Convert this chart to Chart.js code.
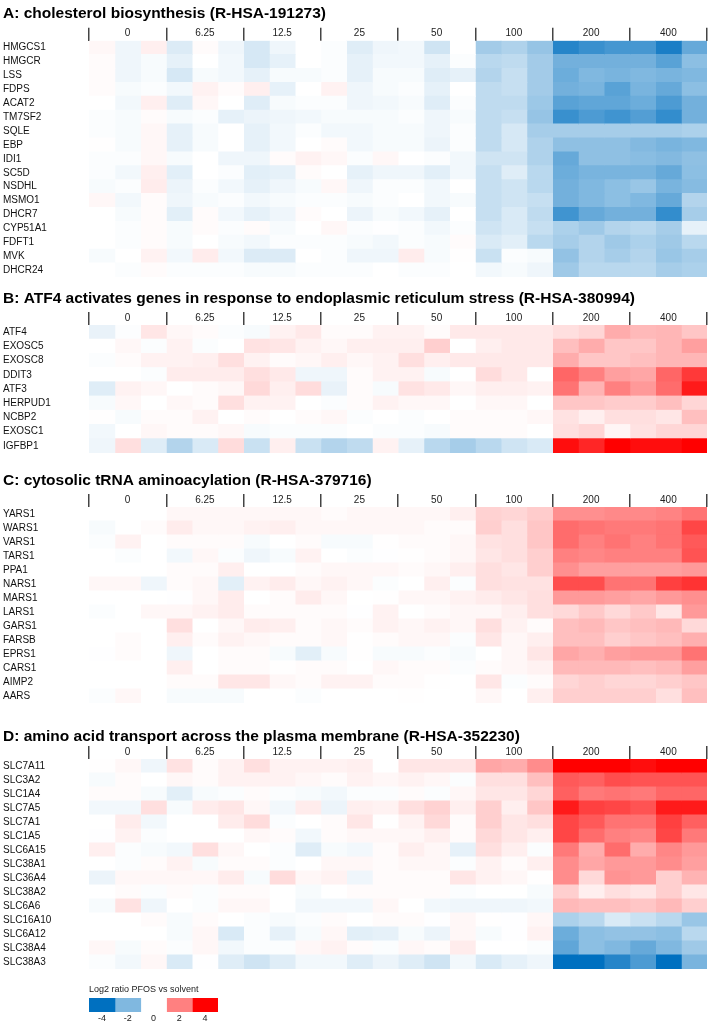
<!DOCTYPE html>
<html>
<head>
<meta charset="utf-8">
<script src="https://cdn.jsdelivr.net/npm/chart.js@4.4.1/dist/chart.umd.min.js"></script>
<style>
  html, body { margin: 0; padding: 0; background: #fff; }
  body { width: 709px; height: 1025px; position: relative; overflow: hidden; }
  canvas { position: absolute; }
</style>
</head>
<body>
<canvas id="panelA" width="709"></canvas>
<canvas id="panelB" width="709"></canvas>
<canvas id="panelC" width="709"></canvas>
<canvas id="panelD" width="709"></canvas>
<canvas id="scale" width="140" height="43"></canvas>
<script>
// PFOS concentrations, three replicate columns each
const doses = ['0', '6.25', '12.5', '25', '50', '100', '200', '400'];

const cholGenes = ['HMGCS1', 'HMGCR', 'LSS', 'FDPS', 'ACAT2', 'TM7SF2', 'SQLE', 'EBP', 'IDI1', 'SC5D',
  'NSDHL', 'MSMO1', 'DHCR7', 'CYP51A1', 'FDFT1', 'MVK', 'DHCR24'];
const cholVals = [
  [0.12, -0.25, 0.25, -0.55, 0.06, -0.25, -0.65, -0.25, 0, -0.06, -0.5, -0.25, -0.2, -0.75, 0, -1.45, -1.25, -1.65, -3.4, -3.1, -2.9, -2.9, -3.6, -2.4],
  [0.06, -0.25, -0.12, -0.4, 0, -0.2, -0.65, -0.4, 0, -0.06, -0.4, -0.2, -0.2, -0.4, -0.06, -1.1, -1.0, -1.45, -2.2, -2.2, -2.2, -2.2, -2.6, -1.8],
  [0.06, -0.25, -0.12, -0.65, -0.12, -0.2, -0.4, -0.12, -0.12, -0.06, -0.4, -0.12, -0.12, -0.5, -0.4, -1.2, -0.9, -1.45, -2.3, -2.0, -2.1, -2.0, -2.1, -2.0],
  [0.06, -0.12, -0.06, -0.2, 0.2, 0.06, 0.25, -0.4, 0, 0.2, -0.25, -0.12, -0.06, -0.4, 0, -1.0, -0.9, -1.45, -2.2, -2.1, -2.6, -2.1, -2.4, -1.8],
  [0, -0.2, 0.25, -0.5, 0.12, 0, -0.5, -0.12, -0.06, -0.06, -0.25, -0.2, -0.12, -0.5, -0.06, -1.0, -1.0, -1.55, -2.6, -2.5, -2.5, -2.3, -2.8, -2.2],
  [-0.06, -0.12, 0.06, -0.12, -0.06, -0.4, -0.3, -0.25, -0.2, -0.12, -0.12, -0.12, -0.06, -0.25, -0.12, -1.0, -0.9, -1.65, -3.1, -2.8, -3.0, -2.7, -3.2, -2.2],
  [-0.06, -0.12, 0.12, -0.4, -0.12, 0, -0.4, -0.2, -0.06, -0.2, -0.2, -0.12, -0.12, -0.25, -0.06, -1.0, -0.65, -1.4, -1.4, -1.4, -1.4, -1.4, -1.4, -1.3],
  [0.02, -0.12, 0.12, -0.4, -0.12, 0, -0.4, -0.2, 0, 0.06, -0.2, -0.12, -0.12, -0.3, -0.06, -1.0, -0.65, -1.25, -1.75, -1.75, -1.75, -1.95, -2.1, -2.0],
  [-0.06, -0.06, 0.12, -0.12, 0, -0.25, -0.25, 0.06, 0.2, 0.12, -0.06, 0.12, 0, -0.06, -0.2, -0.75, -0.75, -1.25, -2.4, -1.75, -1.75, -1.85, -1.95, -1.75],
  [-0.06, -0.2, 0.25, -0.45, 0, -0.06, -0.45, -0.4, 0.06, 0, -0.4, -0.25, -0.25, -0.45, -0.2, -0.9, -0.5, -1.1, -2.3, -2.1, -2.1, -2.1, -2.4, -1.8],
  [-0.12, -0.06, 0.3, -0.3, -0.06, -0.2, -0.4, -0.25, -0.12, 0.12, -0.25, -0.06, -0.06, -0.2, 0, -0.9, -0.75, -1.1, -2.2, -2.0, -1.8, -1.6, -2.1, -1.9],
  [0.12, -0.2, 0.06, -0.25, -0.12, -0.06, -0.2, -0.12, -0.06, -0.06, -0.12, -0.06, 0, -0.2, -0.12, -0.9, -0.75, -0.9, -2.2, -2.0, -1.8, -2.0, -2.4, -1.2],
  [0, -0.12, 0.06, -0.45, 0.06, -0.2, -0.4, -0.25, 0.06, 0, -0.3, -0.12, -0.2, -0.4, 0, -0.9, -0.6, -1.0, -3.0, -2.4, -2.2, -2.2, -3.2, -1.4],
  [0, -0.06, 0.06, -0.12, 0.06, -0.06, 0.06, -0.12, 0, 0.12, -0.06, -0.02, -0.06, -0.2, -0.06, -0.75, -0.6, -0.9, -1.3, -1.5, -1.2, -1.1, -1.4, -0.4],
  [0, -0.06, 0.06, -0.12, 0, -0.12, -0.2, -0.06, -0.06, -0.06, -0.12, -0.2, -0.06, -0.12, 0.06, -0.6, -0.45, -1.1, -1.4, -1.2, -1.5, -1.3, -1.5, -1.1],
  [-0.12, 0, 0.2, -0.2, 0.3, -0.2, -0.55, -0.55, 0, -0.06, -0.25, -0.25, 0.3, -0.12, 0.02, -0.85, -0.06, -0.12, -1.7, -1.2, -1.4, -1.2, -1.6, -1.4],
  [0, -0.06, 0.06, -0.06, -0.06, -0.06, -0.12, -0.12, -0.06, -0.06, -0.06, 0, -0.06, -0.06, 0, -0.2, -0.12, -0.25, -1.5, -1.1, -1.1, -1.1, -1.4, -1.3],
];

const atf4Genes = ['ATF4', 'EXOSC5', 'EXOSC8', 'DDIT3', 'ATF3', 'HERPUD1', 'NCBP2', 'EXOSC1', 'IGFBP1'];
const atf4Vals = [
  [-0.35, -0.05, 0.4, 0.12, 0.06, -0.06, -0.12, 0.2, 0.35, 0.06, 0.06, 0.2, 0.2, 0.06, 0.35, 0.35, 0.35, 0.35, 0.5, 0.65, 1.3, 1.1, 1.15, 0.9],
  [0, 0.12, -0.06, 0.2, -0.06, 0, 0.45, 0.4, 0.2, 0.12, 0.25, 0.25, 0.25, 0.75, 0, 0.25, 0.35, 0.35, 1.0, 1.3, 0.9, 0.9, 1.15, 1.5],
  [-0.06, 0.06, 0.2, 0.2, 0.25, 0.5, 0.2, 0.06, 0.12, 0.25, 0.12, 0.2, 0.5, 0.25, 0.35, 0.35, 0.35, 0.35, 1.3, 0.9, 0.9, 1.0, 1.15, 1.15],
  [0, 0, -0.06, 0.3, 0.3, 0.3, 0.5, 0.35, -0.25, -0.25, 0.06, 0.2, 0.2, -0.12, 0, 0.55, 0.35, 0, 2.4, 2.0, 1.5, 1.4, 2.4, 3.1],
  [-0.5, 0.2, 0.12, 0, 0.06, 0.12, 0.6, 0.25, 0.55, -0.35, 0.06, -0.12, 0.45, 0.35, 0.12, 0.25, 0.25, 0.2, 2.2, 1.2, 2.0, 1.6, 2.3, 3.6],
  [-0.12, 0.12, 0, 0.12, 0.06, 0.5, 0.2, 0.2, 0, -0.06, 0.06, 0.2, 0.12, 0.12, 0, 0.12, 0.12, 0, 0.9, 0.9, 0.8, 0.8, 1.0, 0.65],
  [0.02, -0.12, 0.06, 0.06, 0.2, 0, 0.06, 0, 0.06, 0.12, -0.06, 0, -0.06, 0, 0.06, 0.06, 0.06, 0.12, 0.45, 0.25, 0.5, 0.5, 0.4, 1.0],
  [-0.2, 0, 0.12, 0.06, 0.06, 0.12, -0.12, -0.06, -0.06, -0.06, 0, -0.06, -0.06, -0.12, 0.06, 0.06, 0.06, 0, 0.5, 0.65, 0.15, 0.45, 0.65, 0.65],
  [-0.25, 0.5, -0.5, -1.2, -0.6, 0.55, -0.85, 0.25, -0.85, -1.2, -1.0, 0.2, -0.4, -1.1, -1.4, -1.1, -0.75, -0.6, 3.8, 3.4, 4.0, 3.8, 3.8, 4.0],
];

const trnaGenes = ['YARS1', 'WARS1', 'VARS1', 'TARS1', 'PPA1', 'NARS1', 'MARS1', 'LARS1', 'GARS1', 'FARSB',
  'EPRS1', 'CARS1', 'AIMP2', 'AARS'];
const trnaVals = [
  [0, 0, 0, 0.12, 0.12, 0.12, 0.12, 0.12, 0.12, 0.06, 0.12, 0.12, 0.12, 0.12, 0.25, 0.7, 0.65, 0.8, 1.75, 1.75, 1.85, 1.85, 1.95, 2.2],
  [-0.12, 0, 0.06, 0.3, 0.12, 0.12, 0.2, 0.25, 0.12, 0.12, 0.12, 0.12, 0.12, 0.06, 0.06, 0.75, 0.5, 0.9, 2.3, 2.2, 2.1, 2.1, 2.2, 2.9],
  [-0.06, 0.2, 0, 0.06, 0.06, 0.06, -0.12, 0, 0.06, -0.12, -0.12, 0.02, 0.06, 0.06, 0.12, 0.45, 0.5, 0.9, 2.3, 2.0, 2.2, 2.0, 2.2, 2.6],
  [0, -0.06, 0, -0.2, 0.12, -0.06, -0.25, -0.12, 0.2, 0, -0.06, -0.02, 0.02, 0.06, 0.12, 0.4, 0.5, 0.75, 2.0, 1.9, 2.0, 2.0, 2.0, 2.7],
  [0, 0, 0, 0.06, 0.06, 0.25, 0, 0, 0.06, 0.12, 0.12, 0.12, 0.06, 0.12, 0.25, 0.5, 0.4, 0.75, 1.75, 1.5, 1.5, 1.5, 1.5, 1.6],
  [0.12, 0.12, -0.25, 0.06, 0.12, -0.45, 0.2, 0.3, 0.12, 0.2, 0.12, -0.06, 0, 0.25, -0.06, 0.5, 0.45, 0.45, 2.8, 2.8, 2.2, 2.2, 3.0, 3.2],
  [0, 0, 0, -0.02, 0.12, 0.3, 0, 0.06, 0.3, 0.12, 0, 0.02, 0.12, 0.12, 0.2, 0.3, 0.4, 0.5, 1.6, 1.6, 1.5, 1.4, 1.6, 1.75],
  [-0.06, 0, 0.12, 0.12, 0.2, 0.3, 0.06, 0.06, 0.06, 0.06, -0.02, 0.2, 0, 0.06, 0.12, 0.12, 0.25, 0.5, 0.6, 0.85, 0.6, 0.85, 0.4, 1.6],
  [0, 0, 0, 0.5, 0, 0.12, 0.3, 0.25, 0.06, 0.12, 0.06, 0.2, 0.12, 0.2, 0.12, 0.5, 0.2, 0.06, 1.0, 1.1, 0.9, 1.0, 1.1, 0.6],
  [0, 0.06, 0, 0.25, 0.06, 0.2, 0.12, 0.06, 0.06, 0.12, 0.02, 0.06, 0.12, 0.12, -0.06, 0.4, 0.12, 0.25, 1.0, 1.0, 0.75, 0.9, 1.0, 1.25],
  [-0.02, 0.06, 0, -0.25, 0, 0.06, 0.06, -0.12, -0.45, -0.12, 0.02, -0.12, -0.12, -0.06, -0.12, 0, 0.12, 0.4, 1.4, 1.25, 1.5, 1.6, 1.6, 2.2],
  [0, 0, 0, 0.25, 0, 0.06, 0.06, 0.02, 0.06, 0.06, 0, 0.12, 0.06, 0.06, -0.06, 0.06, 0.12, 0.2, 1.1, 1.1, 1.1, 1.0, 1.1, 1.5],
  [0, 0, 0, 0.06, 0.06, 0.4, 0.4, 0.12, 0.06, 0.2, 0.2, 0.06, 0.06, 0.02, 0, 0.4, -0.06, 0.06, 0.65, 0.75, 0.65, 0.65, 0.75, 0.9],
  [-0.06, 0.12, 0, -0.12, -0.12, -0.12, 0, 0, -0.06, 0, 0, 0, 0.02, 0, 0, 0.12, 0, 0.25, 0.75, 0.75, 0.75, 0.75, 0.5, 1.0],
];

const aaGenes = ['SLC7A11', 'SLC3A2', 'SLC1A4', 'SLC7A5', 'SLC7A1', 'SLC1A5', 'SLC6A15', 'SLC38A1', 'SLC36A4',
  'SLC38A2', 'SLC6A6', 'SLC16A10', 'SLC6A12', 'SLC38A4', 'SLC38A3'];
const aaVals = [
  [0.02, 0.12, -0.25, 0.45, 0.06, 0.2, 0.5, 0.2, 0.2, 0.2, 0.25, 0, 0.4, 0.4, 0.4, 1.4, 1.3, 1.8, 4.0, 4.0, 4.0, 3.8, 4.0, 4.0],
  [-0.12, 0.06, 0, 0.12, 0.06, 0.2, 0.2, 0.2, 0.12, 0.06, 0.2, 0.12, 0.2, 0.12, -0.06, 0.5, 0.5, 1.0, 2.6, 2.5, 2.8, 2.7, 2.7, 2.7],
  [0.06, 0.06, -0.12, -0.45, -0.12, -0.06, 0.06, -0.06, -0.12, -0.2, -0.06, -0.06, 0.06, -0.06, 0.12, 0.4, 0.4, 0.65, 2.5, 2.1, 2.2, 2.1, 2.4, 2.4],
  [-0.2, -0.2, 0.5, -0.12, 0.3, 0.4, 0.12, -0.2, 0.3, -0.3, 0.25, 0.2, 0.5, 0.7, 0.25, 0.75, 0.25, 0.9, 3.6, 3.0, 2.9, 2.7, 3.6, 3.6],
  [0, 0.3, -0.2, 0, 0, 0.3, 0.55, -0.06, 0, 0.06, 0.4, 0.02, 0.2, 0.6, 0.06, 0.75, 0.4, 0.5, 2.9, 2.6, 2.2, 2.2, 3.0, 2.5],
  [-0.02, 0.2, -0.06, 0, 0, 0, 0.12, 0.06, -0.2, 0.06, 0.12, 0.12, 0.12, 0.25, 0.06, 0.6, 0.4, 0.25, 2.9, 2.3, 2.0, 1.9, 2.9, 2.1],
  [0.25, -0.06, -0.12, -0.2, 0.5, 0.12, 0, -0.06, -0.5, -0.12, -0.2, 0.06, 0.25, 0.12, -0.4, 0.5, 0.25, -0.06, 2.1, 1.3, 2.3, 1.3, 1.9, 1.6],
  [0, -0.06, 0.06, 0.2, -0.12, 0.06, 0.06, -0.06, 0, 0.12, 0.12, 0.06, 0.12, 0.12, -0.06, 0.2, 0.06, 0.25, 1.8, 1.4, 1.6, 1.6, 1.8, 1.5],
  [-0.3, 0.12, 0.12, 0.12, 0.12, 0.3, -0.12, 0.55, 0.12, 0.2, -0.25, 0.06, 0.06, 0.06, 0.4, 0.2, 0.12, 0.02, 1.8, 0.6, 1.7, 1.6, 0.75, 1.2],
  [0, 0.06, -0.06, 0.06, -0.06, 0.06, 0.06, 0, -0.12, 0, 0.06, 0.06, 0.06, 0.06, -0.06, 0, 0, -0.12, 0.75, 0.25, 0.5, 0.4, 0.75, 0.4],
  [-0.12, 0.45, -0.25, 0, -0.06, 0.12, 0.12, 0, -0.2, -0.2, -0.2, 0.12, 0, -0.2, -0.25, -0.25, -0.25, -0.2, 1.1, 1.0, 1.0, 0.9, 1.1, 0.75],
  [0, 0, 0.06, -0.12, 0.06, 0, -0.06, -0.12, -0.06, 0.06, 0, 0.06, 0.06, -0.02, 0.12, 0.02, -0.02, 0.12, -1.3, -1.1, -0.6, -0.85, -1.1, -1.6],
  [0, 0, 0, -0.12, 0.12, -0.6, -0.06, -0.4, -0.12, 0.12, -0.45, -0.4, -0.12, -0.3, 0.12, -0.12, -0.02, 0.2, -2.3, -1.8, -1.7, -1.7, -1.8, -1.1],
  [0.12, -0.12, 0.06, -0.06, 0.12, -0.2, -0.06, -0.06, 0.12, 0.2, 0.06, -0.06, 0.12, 0.06, 0.3, 0, 0, -0.06, -2.5, -1.8, -2.0, -2.4, -2.0, -1.5],
  [-0.06, -0.2, 0.12, -0.6, -0.02, -0.5, -0.75, -0.5, -0.2, -0.2, -0.5, -0.3, -0.5, -0.75, -0.2, -0.6, -0.4, -0.25, -4.0, -4.0, -3.4, -2.8, -4.0, -2.1],
];

const legendSteps = [-4, -2, 0, 2, 4];

const FONT = "'Liberation Sans', Arial, Helvetica, sans-serif";
const REPS = 3;

// Log2 ratio -> colour: white at 0, #0070C0 at -4, pure red at +4.
function heat(v) {
  const t = Math.min(Math.abs(v) / 4, 1);
  if (v < 0) {
    return `rgb(${Math.round(255 - 255 * t)},${Math.round(255 - 143 * t)},${Math.round(255 - 63 * t)})`;
  }
  return `rgb(255,${Math.round(255 - 255 * t)},${Math.round(255 - 255 * t)})`;
}

// One heatmap panel = horizontal stacked bars; each replicate column is a
// dataset of unit-width cells coloured by its value.
function panel(id, top, title, genes, vals, rowH, titleGap) {
  const cols = doses.length * REPS;
  const cv = document.getElementById(id);
  // title (4 + 18.6 + gap) + dose header (13) + rows; +6 for the half label
  // height the y axis keeps free below the last row.
  cv.height = Math.round(4 + 18.6 + titleGap + 13 + genes.length * rowH + 6);
  cv.style.left = '0px';
  cv.style.top = top + 'px';
  const datasets = [];
  for (let j = 0; j < cols; j++) {
    datasets.push({
      data: genes.map(() => 1),
      backgroundColor: vals.map(r => heat(r[j])),
      borderWidth: 0,
      barPercentage: 1,
      categoryPercentage: 1,
      inflateAmount: 0.5,
    });
  }
  return new Chart(cv, {
    type: 'bar',
    data: { labels: genes, datasets },
    options: {
      indexAxis: 'y',
      responsive: false,
      animation: false,
      devicePixelRatio: 1,
      layout: { padding: { left: 3, right: 2, top: 0, bottom: 0 } },
      plugins: {
        legend: { display: false },
        tooltip: { enabled: false },
        title: {
          display: true, text: title, align: 'start', color: '#000',
          font: { family: FONT, size: 15.5, weight: 'bold' },
          padding: { top: 4, bottom: titleGap },
        },
      },
      scales: {
        x: { type: 'linear', stacked: true, min: 0, max: cols, display: false },
        xg: {
          type: 'category', axis: 'x', position: 'top', labels: doses, offset: true,
          grid: { offset: true, drawOnChartArea: false, tickLength: 13, color: '#444', lineWidth: 1.5 },
          border: { display: false },
          ticks: { color: '#222', font: { family: FONT, size: 10 }, padding: -12, maxRotation: 0, autoSkip: false },
          afterFit: s => { s.height = 13; },
        },
        y: {
          stacked: true,
          grid: { display: false, drawTicks: false },
          border: { display: false },
          ticks: { color: '#111', font: { family: FONT, size: 10 }, crossAlign: 'far', autoSkip: false, padding: 0 },
          afterFit: s => { s.width = 86; },
        },
      },
    },
  });
}

panel('panelA', 0, 'A: cholesterol biosynthesis (R-HSA-191273)', cholGenes, cholVals, 13.9, 5.1);
panel('panelB', 285, 'B: ATF4 activates genes in response to endoplasmic reticulum stress (R-HSA-380994)', atf4Genes, atf4Vals, 14.2, 4.4);
panel('panelC', 467, 'C: cytosolic tRNA aminoacylation (R-HSA-379716)', trnaGenes, trnaVals, 14, 4.4);
panel('panelD', 723, 'D: amino acid transport across the plasma membrane (R-HSA-352230)', aaGenes, aaVals, 14, 0.4);

// Colour key
const sc = document.getElementById('scale');
sc.style.left = '86px';
sc.style.top = '982px';
new Chart(sc, {
  type: 'bar',
  data: {
    labels: [''],
    datasets: legendSteps.map(v => ({
      data: [1], backgroundColor: heat(v), borderWidth: 0,
      barPercentage: 1, categoryPercentage: 1, inflateAmount: 0.5,
    })),
  },
  options: {
    indexAxis: 'y',
    responsive: false,
    animation: false,
    devicePixelRatio: 1,
    layout: { padding: { left: 3, right: 8, top: 0, bottom: 0 } },
    plugins: {
      legend: { display: false },
      tooltip: { enabled: false },
      title: {
        display: true, text: 'Log2 ratio PFOS vs solvent', align: 'start', color: '#222',
        font: { family: FONT, size: 9, weight: 'normal' },
        padding: { top: 2, bottom: 3.2 },
      },
    },
    scales: {
      x: { type: 'linear', stacked: true, min: 0, max: legendSteps.length, display: false },
      xl: {
        type: 'category', axis: 'x', position: 'bottom', labels: legendSteps.map(String), offset: true,
        grid: { display: false, drawTicks: false }, border: { display: false },
        ticks: { color: '#222', font: { family: FONT, size: 9 }, padding: 1, maxRotation: 0, autoSkip: false },
        afterFit: s => { s.height = 13; },
      },
      y: { stacked: true, display: false },
    },
  },
});
</script>
</body>
</html>
